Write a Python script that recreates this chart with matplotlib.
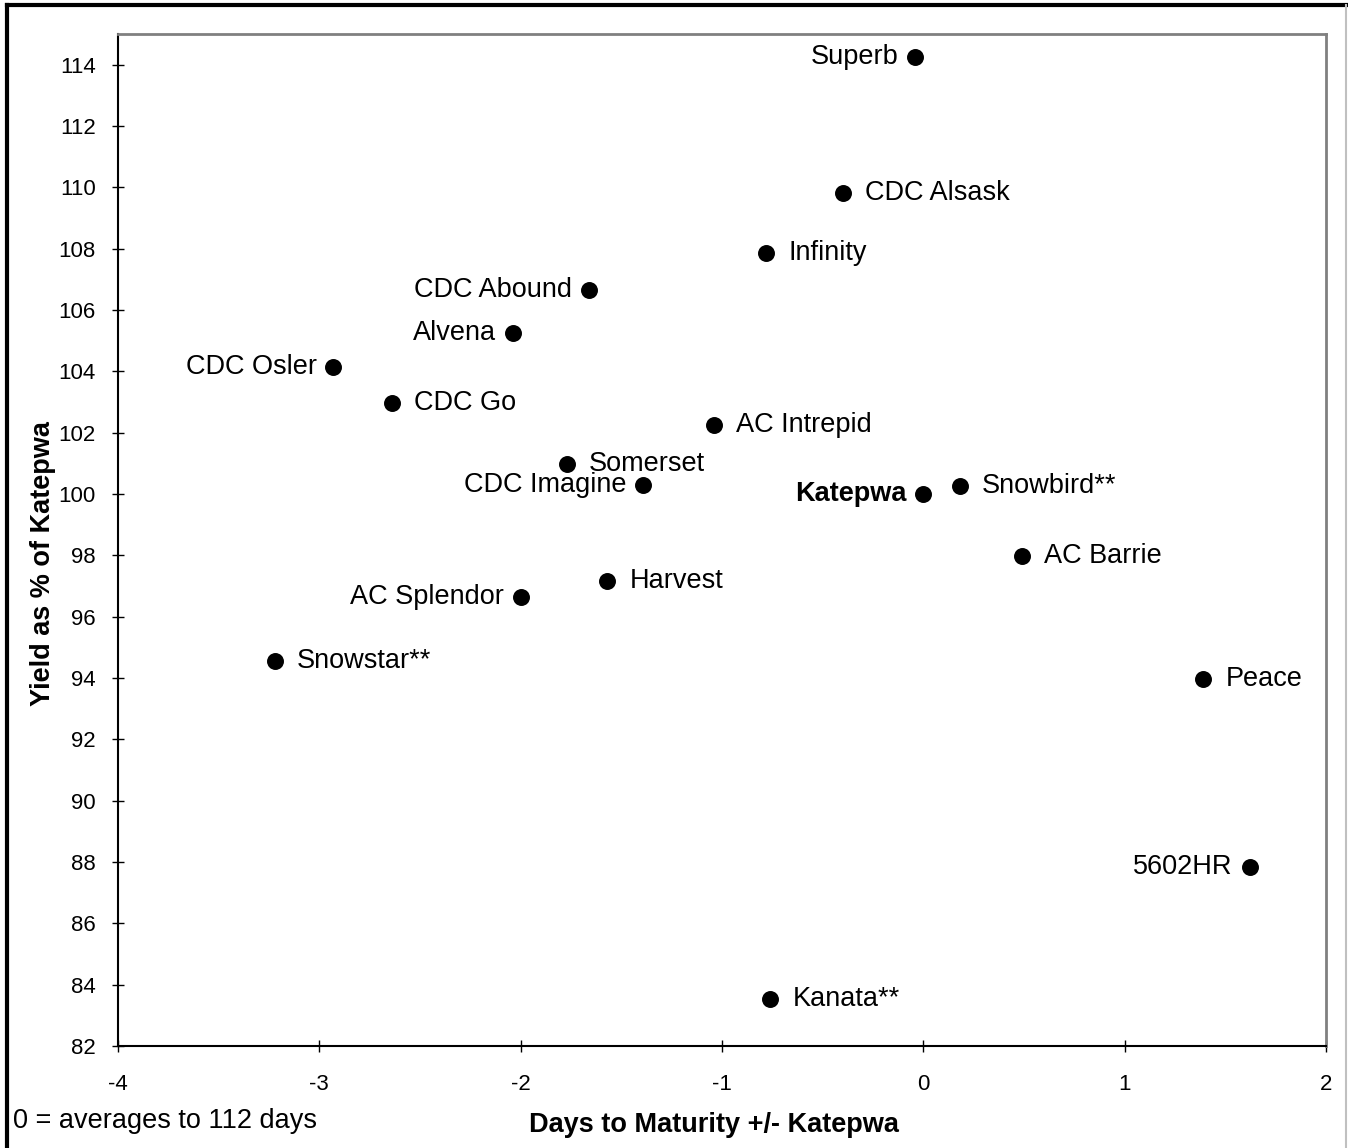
import numpy as np
import matplotlib.pyplot as plt
from matplotlib.lines import Line2D

plt.rcParams['font.family'] = ['Liberation Sans', 'DejaVu Sans']
plt.rcParams['axes.unicode_minus'] = False

# varieties, days to maturity (+/- Katepwa) and yield (% of Katepwa)
names = ["Superb", "CDC Alsask", "Infinity", "CDC Abound", "Alvena", "CDC Osler",
         "CDC Go", "AC Intrepid", "Somerset", "CDC Imagine", "Katepwa", "Snowbird**",
         "AC Barrie", "Harvest", "AC Splendor", "Snowstar**", "Peace", "5602HR", "Kanata**"]
days = [-0.04, -0.40, -0.78, -1.66, -2.04, -2.93,
        -2.64, -1.04, -1.77, -1.39, 0.0, 0.18,
        0.49, -1.57, -2.0, -3.22, 1.39, 1.62, -0.76]
yields = [114.26, 109.8, 107.86, 106.65, 105.25, 104.15,
          102.98, 102.25, 100.98, 100.3, 100.0, 100.25,
          97.98, 97.15, 96.65, 94.55, 93.97, 87.85, 83.53]
# which side the label sits on
left_side = ["Superb", "CDC Abound", "Alvena", "CDC Osler", "CDC Imagine",
             "Katepwa", "AC Splendor", "5602HR"]

xticks = [-4, -3, -2, -1, 0, 1, 2]
yticks = list(range(82, 115, 2))

fig = plt.figure(figsize=(13.48, 11.48), dpi=100)
ax = fig.add_axes([0.0875, 0.0889, 0.8962, 0.8815])

ax.scatter(days, yields, s=125, color='black', zorder=3)

for n, x, y in zip(names, days, yields):
    weight = 'bold' if n == "Katepwa" else 'normal'
    if n in left_side:
        ax.annotate(n, (x, y), xytext=(-12, 0), textcoords='offset points',
                    ha='right', va='center', fontsize=19.5, fontweight=weight)
    else:
        ax.annotate(n, (x, y), xytext=(16, 0), textcoords='offset points',
                    ha='left', va='center', fontsize=19.5, fontweight=weight)

ax.set_xlim(-4, 2)
ax.set_ylim(82, 115)
ax.set_xticks(xticks)
ax.set_yticks(yticks)
ax.tick_params(direction='inout', length=8, width=1, labelsize=16)
ax.tick_params(axis='x', pad=16)
ax.tick_params(axis='y', pad=12)

for side in ['left', 'bottom']:
    ax.spines[side].set_color('black')
    ax.spines[side].set_linewidth(1.5)
for side in ['top', 'right']:
    ax.spines[side].set_color('#808080')
    ax.spines[side].set_linewidth(2)

ax.set_xlabel("Days to Maturity +/- Katepwa", fontsize=19.5, fontweight='bold')
ax.set_ylabel("Yield as % of Katepwa", fontsize=19.5, fontweight='bold')
ax.xaxis.set_label_coords(0.493, -0.065)
ax.yaxis.set_label_coords(-0.0514, 0.477)

fig.text(0.0096, 0.0235, "0 = averages to 112 days", fontsize=19.5, ha='left', va='center')

# chart border
fig.add_artist(Line2D([0.0055, 0.0055], [0.0, 0.9955], color='black', lw=3, transform=fig.transFigure))
fig.add_artist(Line2D([0.0055, 1.0], [0.9955, 0.9955], color='black', lw=3, transform=fig.transFigure))
fig.add_artist(Line2D([0.9988, 0.9988], [0.0, 0.9955], color='#c0c0c0', lw=1.5, transform=fig.transFigure))

fig.savefig("out.png", dpi=100)
